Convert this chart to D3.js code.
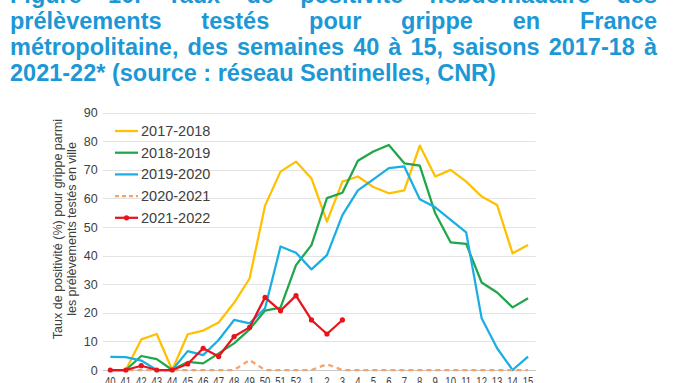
<!DOCTYPE html>
<html><head><meta charset="utf-8">
<script src="https://cdn.jsdelivr.net/npm/d3@7/dist/d3.min.js"></script>
<style>
html,body{margin:0;padding:0;background:#fff;overflow:hidden}
svg{display:block}
</style></head>
<body>
<svg id="chart" width="681" height="383"></svg>
<script>
const weeks = ["40","41","42","43","44","45","46","47","48","49","50","51","52","1","2","3","4","5","6","7","8","9","10","11","12","13","14","15"];
const yTicks = [0,10,20,30,40,50,60,70,80,90];
const seasons = ["2017-2018","2018-2019","2019-2020","2020-2021","2021-2022"];
const s2017 = [0,0,10.7,12.6,0,12.5,13.8,16.6,23.5,32,57.5,69.4,72.9,67,51.9,65.9,67.7,64,61.8,62.8,78.5,67.7,70,65.9,60.7,57.7,40.8,43.7];
const s2018 = [0,0,4.9,3.8,0,2.8,2.3,5.8,9.3,14.2,20.8,21.8,36.7,43.7,60.1,62,73.2,76.4,78.7,72.3,71.5,54.8,44.6,44.1,30.6,27.1,21.9,25.1];
const s2019 = [4.6,4.5,3.3,0,0,6.6,5.2,10.5,17.5,16.3,21.6,43.2,41,35.2,40.2,54.2,62.8,66.7,70.6,71.2,59.7,56.9,52.5,48.1,18.1,7.6,0,4.7];
const s2020 = [0,0,0,0,0,0,0,0,0,3.5,0,0,0,0,2,0,0,0,0,0,0,0,0,0,0,0,0,0];
const s2021 = [0,0,1.5,0,0,2.1,7.6,4.7,11.7,14.9,25.4,20.7,26,17.5,12.6,17.5];
const titleLines = [
  "Figure 10. Taux de positivité hebdomadaire des",
  "prélèvements testés pour grippe en France",
  "métropolitaine, des semaines 40 à 15, saisons 2017-18 à",
  "2021-22* (source : réseau Sentinelles, CNR)"
];
const yTitle = ["Taux de positivité (%) pour grippe parmi","les prélèvements testés en ville"];

const series = [
  {name: seasons[0], values: s2017, color: "#FFC000", dash: null, marker: false},
  {name: seasons[1], values: s2018, color: "#1FA64A", dash: null, marker: false},
  {name: seasons[2], values: s2019, color: "#1AAEE5", dash: null, marker: false},
  {name: seasons[3], values: s2020, color: "#F4A26B", dash: "5,4", marker: false},
  {name: seasons[4], values: s2021, color: "#E8141C", dash: null, marker: true}
];

const svg = d3.select("#chart");
const FONT = "'Liberation Sans', Arial, sans-serif";

// Title (justified)
const titleColor = "#1B98D5";
const tx0 = 10, tx1 = 657;
const baselines = [3, 29, 55, 81];
titleLines.forEach((line, i) => {
  const words = line.split(" ");
  const g = svg.append("g");
  const nodes = words.map(w => g.append("text").text(w)
      .attr("y", baselines[i]).attr("font-family", FONT).attr("font-weight", "bold")
      .attr("font-size", 23.5).attr("fill", titleColor));
  const widths = nodes.map(n => n.node().getComputedTextLength());
  const total = d3.sum(widths);
  let gap;
  if (i < 3) gap = (tx1 - tx0 - total) / (words.length - 1);
  else gap = 23.5 * 0.278;
  let x = tx0;
  nodes.forEach((n, k) => { n.attr("x", x); x += widths[k] + gap; });
});

// Scales
const x = d3.scaleBand().domain(weeks).range([102.6, 535.8]);
const xc = w => x(w) + x.bandwidth() / 2;
const y = d3.scaleLinear().domain([0, 90]).range([370, 112.7]);

// Gridlines
svg.append("g").selectAll("line").data(yTicks.filter(t => t > 0)).join("line")
  .attr("x1", 102.6).attr("x2", 535.8)
  .attr("y1", d => Math.round(y(d)) + 0.5).attr("y2", d => Math.round(y(d)) + 0.5)
  .attr("stroke", "#e3e3e3").attr("stroke-width", 1);
svg.append("line").attr("x1", 102.6).attr("x2", 535.8)
  .attr("y1", Math.round(y(0)) + 0.5).attr("y2", Math.round(y(0)) + 0.5)
  .attr("stroke", "#c8c8c8").attr("stroke-width", 1);

// Y axis tick labels
const yAxis = d3.axisLeft(y).tickValues(yTicks).tickSize(0).tickPadding(5);
const yg = svg.append("g").attr("transform", "translate(102.6,0)").call(yAxis);
yg.select(".domain").remove();
yg.selectAll("text").attr("font-family", FONT).attr("font-size", 12.5).attr("fill", "#404040");

// X axis tick labels
const xAxis = d3.axisBottom(x).tickSize(0).tickPadding(7);
const xg = svg.append("g").attr("transform", "translate(0,370)").call(xAxis);
xg.select(".domain").remove();
xg.selectAll("text").attr("font-family", FONT).attr("font-size", 12).attr("fill", "#404040")
  .attr("transform", "scale(0.8,1)");

// Y title
const yt = svg.append("text").attr("transform", "translate(0,229) rotate(-90)")
  .attr("text-anchor", "middle").attr("font-family", FONT).attr("font-size", 12.5).attr("fill", "#404040");
yt.append("tspan").attr("x", 0).attr("y", 62).text(yTitle[0]);
yt.append("tspan").attr("x", 0).attr("y", 76).text(yTitle[1]);

// Lines
const line = d3.line().x((d, i) => xc(weeks[i])).y(d => y(d));
series.forEach(s => {
  svg.append("path").datum(s.values)
    .attr("fill", "none").attr("stroke", s.color).attr("stroke-width", 2.25)
    .attr("stroke-linejoin", "round")
    .attr("stroke-dasharray", s.dash)
    .attr("d", line);
  if (s.marker) {
    svg.append("g").selectAll("circle").data(s.values).join("circle")
      .attr("cx", (d, i) => xc(weeks[i])).attr("cy", d => y(d))
      .attr("r", 2.6).attr("fill", s.color);
  }
});

// Legend
const legY = [131, 152.7, 174.4, 196.1, 217.8];
series.forEach((s, i) => {
  const g = svg.append("g");
  g.append("line").attr("x1", 115).attr("x2", 138).attr("y1", legY[i]).attr("y2", legY[i])
    .attr("stroke", s.color).attr("stroke-width", 2.25).attr("stroke-dasharray", s.dash ? "4,3" : null);
  if (s.marker) g.append("circle").attr("cx", 126.5).attr("cy", legY[i]).attr("r", 2.6).attr("fill", s.color);
  g.append("text").attr("x", 141).attr("y", legY[i] + 5).text(s.name)
    .attr("font-family", FONT).attr("font-size", 14.5).attr("fill", "#404040");
});
</script>
</body></html>
